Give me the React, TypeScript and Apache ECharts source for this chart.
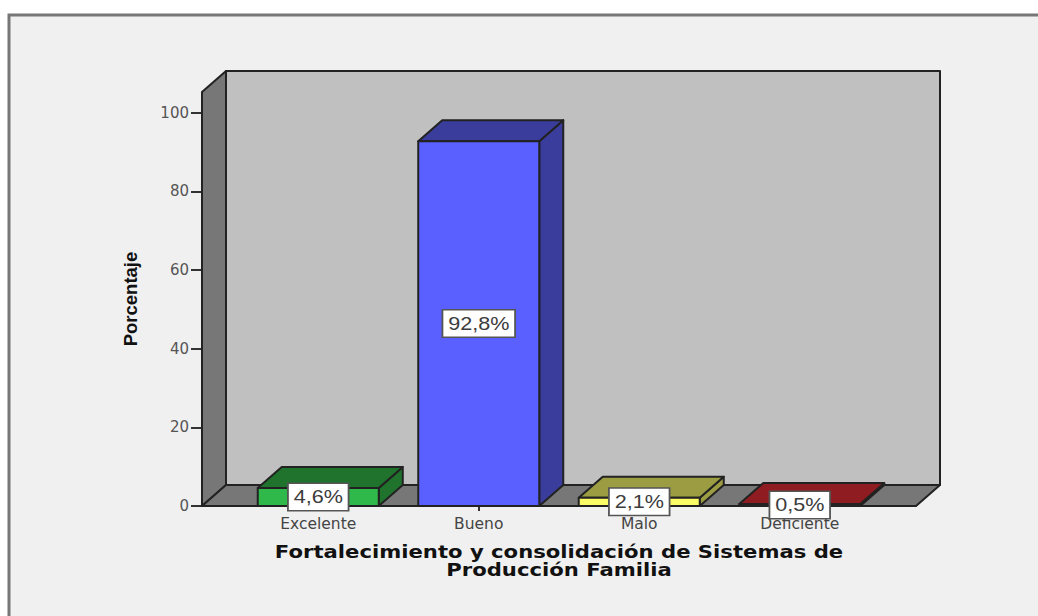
import React, { useEffect, useRef } from "react";
import * as echarts from "echarts";

const categories = ["Excelente", "Bueno", "Malo", "Deficiente"];
const values = [4.6, 92.8, 2.1, 0.5];
const valueLabels = ["4,6%", "92,8%", "2,1%", "0,5%"];
const frontColors = ["#2fb94a", "#5a60ff", "#fbfb66", "#c8262c"];
const sideColors = ["#1f732c", "#3a3d9c", "#9c9c42", "#8e1c20"];
const yTicks = [0, 20, 40, 60, 80, 100];
const wallTop = 105.3;
const xTitle = "Fortalecimiento y consolidación de Sistemas de\nProducción Familia";
const yTitle = "Porcentaje";

const DX = 24;
const DY = -21;
const EDGE = "#222222";
const FLOOR_EXT = 36;
const BAR_RATIO = 0.754;

function polygon(points: number[][], fill: string) {
  return {
    type: "polygon",
    shape: { points },
    style: { fill, stroke: EDGE, lineWidth: 2, lineJoin: "round" },
  };
}

function renderWalls(_p: any, api: any) {
  const band = api.size([1, 0])[0];
  const left = api.coord([0, 0])[0] - band / 2 - FLOOR_EXT;
  const right = api.coord([categories.length - 1, 0])[0] + band / 2 + FLOOR_EXT;
  const y0 = api.coord([0, 0])[1];
  const yt = api.coord([0, wallTop])[1];
  return {
    type: "group",
    children: [
      polygon([[left + DX, yt + DY], [right + DX, yt + DY], [right + DX, y0 + DY], [left + DX, y0 + DY]], "#c0c0c0"),
      polygon([[left, yt], [left + DX, yt + DY], [left + DX, y0 + DY], [left, y0]], "#777777"),
      polygon([[left, y0], [left + DX, y0 + DY], [right + DX, y0 + DY], [right, y0]], "#777777"),
    ],
  };
}

function renderBar(p: any, api: any) {
  const i = api.value(0);
  const band = api.size([1, 0])[0];
  const cx = api.coord([i, 0])[0];
  const w = band * BAR_RATIO;
  const l = cx - w / 2;
  const r = cx + w / 2;
  const y0 = api.coord([i, 0])[1];
  const y1 = api.coord([i, api.value(1)])[1];
  return {
    type: "group",
    children: [
      polygon([[r, y1], [r + DX, y1 + DY], [r + DX, y0 + DY], [r, y0]], sideColors[p.dataIndex]),
      polygon([[l, y1], [l + DX, y1 + DY], [r + DX, y1 + DY], [r, y1]], sideColors[p.dataIndex]),
      polygon([[l, y1], [r, y1], [r, y0], [l, y0]], frontColors[p.dataIndex]),
    ],
  };
}

function renderLabel(p: any, api: any) {
  const i = api.value(0);
  const pos = api.coord([i, api.value(1) / 2]);
  return {
    type: "text",
    x: pos[0],
    y: pos[1],
    scaleX: 1.2,
    style: {
      text: valueLabels[p.dataIndex],
      fontFamily: "Liberation Sans",
      fontSize: 18,
      fill: "#3c3c3c",
      align: "center",
      verticalAlign: "middle",
      backgroundColor: "#ffffff",
      borderColor: "#555555",
      borderWidth: 1.5,
      padding: [5, 4, 3, 4],
    },
  };
}

export default function App() {
  const ref = useRef<HTMLDivElement>(null);
  useEffect(() => {
    const chart = echarts.init(ref.current!, null, { renderer: "svg" });
    const seriesData = values.map((v, i) => [i, v]);
    chart.setOption({
      animation: false,
      backgroundColor: "#ffffff",
      graphic: [
        {
          type: "rect",
          z: -10,
          silent: true,
          shape: { x: 9, y: 15, width: 1040, height: 620 },
          style: { fill: "#f0f0f0", stroke: "#777777", lineWidth: 3 },
        },
        {
          type: "text",
          z: 10,
          silent: true,
          x: 559,
          y: 561,
          scaleX: 1.245,
          style: {
            text: xTitle,
            fontFamily: "DejaVu Sans",
            fontWeight: "bold",
            fontSize: 17,
            lineHeight: 18,
            fill: "#111111",
            align: "center",
            verticalAlign: "middle",
          },
        },
      ],
      grid: { left: 238, top: 92, width: 642, height: 414, containLabel: false },
      xAxis: {
        type: "category",
        data: categories,
        axisLine: { show: false },
        axisTick: { show: true, alignWithLabel: true, length: 5, lineStyle: { color: "#333333", width: 2 } },
        axisLabel: { fontFamily: "DejaVu Sans", fontSize: 15.5, color: "#444444", margin: 10 },
      },
      yAxis: {
        type: "value",
        min: 0,
        max: wallTop,
        offset: FLOOR_EXT,
        axisLine: { show: false },
        splitLine: { show: false },
        axisTick: { show: true, customValues: yTicks, length: 11, lineStyle: { color: "#333333", width: 2 } },
        axisLabel: { customValues: yTicks, fontFamily: "DejaVu Sans", fontSize: 15, color: "#555555", margin: 13 },
        name: yTitle,
        nameLocation: "middle",
        nameGap: 62,
        nameRotate: 90,
        nameTextStyle: { fontFamily: "Liberation Sans", fontWeight: "bold", fontSize: 18.5, color: "#111111" },
      },
      series: [
        { type: "custom", z: 1, silent: true, renderItem: renderWalls, data: [[0, 0]], encode: { x: 0, y: 1 } },
        { type: "custom", z: 2, silent: true, renderItem: renderBar, data: seriesData, encode: { x: 0, y: 1 } },
        { type: "custom", z: 5, silent: true, renderItem: renderLabel, data: seriesData, encode: { x: 0, y: 1 } },
      ],
    });
    return () => chart.dispose();
  }, []);
  return (
    <div
      ref={ref}
      style={{ position: "fixed", left: 0, top: 0, width: 1038, height: 616 }}
    />
  );
}
